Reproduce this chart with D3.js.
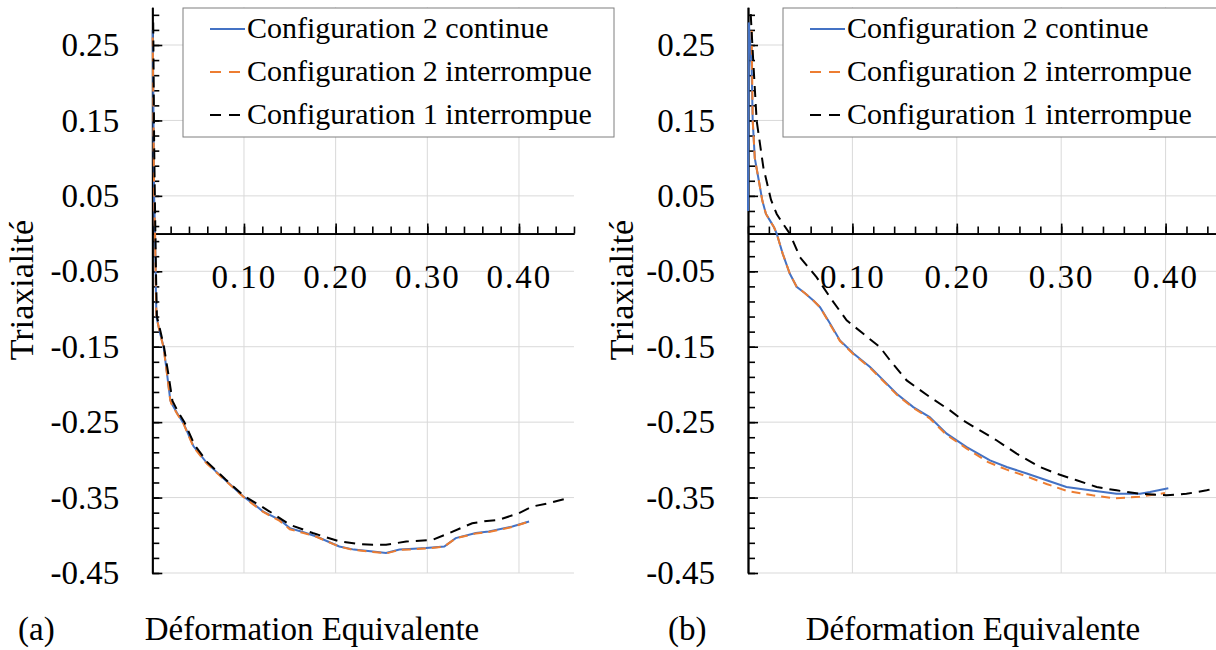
<!DOCTYPE html>
<html><head><meta charset="utf-8">
<script src="https://cdn.jsdelivr.net/npm/d3@7"></script>
</head>
<body style="margin:0">
<svg id="chart" width="1216" height="650" style="font-family:'Liberation Serif'"></svg>
<script>
// ---------- data ----------
const seriesNames = ["Configuration 2 continue", "Configuration 2 interrompue", "Configuration 1 interrompue"];
const xTickVals = [0.10, 0.20, 0.30, 0.40];
const yTickVals = [-0.45, -0.35, -0.25, -0.15, -0.05, 0.05, 0.15, 0.25];
const panelLabels = ["(a)", "(b)"];
const xTitle = "Déformation Equivalente";
const yTitle = "Triaxialité";

// panel (a)
const aBlueX = [0.0005,0.001,0.0015,0.002,0.003,0.004,0.0045,0.008,0.0123,0.016,0.0196,0.021,0.027,0.034,0.045,0.0594,0.0793,0.0993,0.110,0.121,0.139,0.150,0.165,0.179,0.204,0.220,0.2406,0.255,0.2696,0.285,0.2986,0.3185,0.331,0.353,0.367,0.3928,0.411];
const aBlueY = [0.27,0.20,0.12,0.05,0.0,-0.08,-0.11,-0.13,-0.15,-0.185,-0.2205,-0.225,-0.238,-0.2514,-0.282,-0.304,-0.3265,-0.3486,-0.358,-0.3685,-0.3795,-0.3905,-0.396,-0.4016,-0.4148,-0.419,-0.4214,-0.4236,-0.419,-0.418,-0.417,-0.4148,-0.4037,-0.397,-0.395,-0.3884,-0.3817];
const aOrangeX = [0.0005,0.001,0.0015,0.002,0.003,0.004,0.0045,0.008,0.0123,0.016,0.0196,0.021,0.027,0.034,0.045,0.0594,0.0793,0.0993,0.110,0.121,0.139,0.150,0.165,0.179,0.204,0.220,0.2406,0.255,0.2696,0.285,0.2986,0.3185,0.331,0.353,0.367,0.3928,0.413];
const aOrangeY = [0.26,0.19,0.12,0.05,0.0,-0.08,-0.11,-0.13,-0.151,-0.186,-0.221,-0.226,-0.239,-0.252,-0.283,-0.305,-0.327,-0.349,-0.359,-0.369,-0.381,-0.392,-0.397,-0.402,-0.415,-0.4195,-0.422,-0.424,-0.4195,-0.4185,-0.4175,-0.415,-0.404,-0.3975,-0.3955,-0.389,-0.381];
const aBlackX = [0.001,0.0015,0.002,0.003,0.004,0.005,0.009,0.013,0.018,0.022,0.028,0.035,0.046,0.060,0.080,0.100,0.114,0.128,0.150,0.175,0.204,0.225,0.2406,0.255,0.277,0.3058,0.324,0.349,0.365,0.378,0.400,0.4145,0.430,0.454];
const aBlackY = [0.28,0.20,0.12,0.03,-0.05,-0.11,-0.13,-0.152,-0.19,-0.222,-0.236,-0.25,-0.28,-0.303,-0.326,-0.348,-0.358,-0.3685,-0.386,-0.397,-0.408,-0.4115,-0.4126,-0.4126,-0.4083,-0.406,-0.397,-0.384,-0.381,-0.3795,-0.3706,-0.3619,-0.358,-0.3507];

// panel (b)
const bBlueX = [0,0.0008,0.0035,0.0045,0.0065,0.0109,0.0137,0.0172,0.0211,0.0249,0.0275,0.0332,0.040,0.0466,0.0546,0.0626,0.069,0.078,0.0881,0.101,0.1169,0.1264,0.1424,0.1583,0.174,0.1903,0.2095,0.2318,0.2478,0.267,0.286,0.305,0.3276,0.353,0.3755,0.385,0.4026];
const bBlueY = [0.03,0.28,0.22,0.15,0.10,0.066,0.0437,0.026,0.0172,0.0084,0.0,-0.0265,-0.053,-0.0706,-0.079,-0.0887,-0.0976,-0.118,-0.1417,-0.159,-0.177,-0.190,-0.2123,-0.230,-0.2433,-0.2653,-0.283,-0.3007,-0.3095,-0.318,-0.327,-0.336,-0.3404,-0.3448,-0.3448,-0.3425,-0.3376];
const bOrangeX = [0.0035,0.0045,0.0065,0.0109,0.0137,0.0172,0.0211,0.0249,0.0275,0.0332,0.040,0.0466,0.0546,0.0626,0.069,0.078,0.0881,0.101,0.1169,0.1264,0.1424,0.1583,0.174,0.1903,0.2095,0.230,0.2478,0.267,0.286,0.305,0.330,0.350,0.375,0.3994];
const bOrangeY = [0.269,0.15,0.10,0.066,0.0437,0.026,0.0172,0.0084,0.0,-0.0265,-0.053,-0.0706,-0.079,-0.0887,-0.0976,-0.119,-0.1425,-0.160,-0.178,-0.191,-0.2135,-0.231,-0.245,-0.267,-0.285,-0.303,-0.313,-0.322,-0.332,-0.341,-0.347,-0.351,-0.349,-0.344];
const bBlackX = [0.0026,0.005,0.0083,0.0147,0.022,0.0275,0.034,0.040,0.0498,0.0658,0.0785,0.0945,0.1105,0.1264,0.136,0.152,0.1743,0.1935,0.206,0.2222,0.238,0.2573,0.2797,0.2957,0.3148,0.334,0.353,0.3755,0.401,0.420,0.4394,0.455];
const bBlackY = [0.291,0.229,0.1497,0.0878,0.045,0.026,0.012,0.0,-0.0314,-0.058,-0.0844,-0.115,-0.1329,-0.1506,-0.168,-0.1947,-0.2168,-0.2344,-0.2477,-0.261,-0.274,-0.2918,-0.3095,-0.3183,-0.327,-0.336,-0.3404,-0.345,-0.347,-0.345,-0.3404,-0.335];

// ---------- drawing ----------
const FONT = "Liberation Serif";
const svg = d3.select("#chart");
const styles = [
  {color:"#4472C4", dash:null},
  {color:"#ED7D31", dash:"9,6"},
  {color:"#000000", dash:"11,7"}
];
const fmt = d => d.toFixed(2);
const xMax = 0.46, yMin = -0.45, yMax = 0.30;
const minorX = d3.range(0, xMax + 0.0001, 0.02);
const minorY = d3.range(yMin, yMax + 0.0001, 0.02);

function zip(xs, ys){ return xs.map((x,i)=>[x, ys[i]]); }

function drawPanel(cfg){
  const x = d3.scaleLinear().domain([0, xMax]).range([cfg.x0, cfg.x0 + xMax*cfg.xUnit]);
  const y = d3.scaleLinear().domain([yMin, yMax]).range([573, 7.3]);
  const g = svg.append("g");

  g.append("g").selectAll("line").data(yTickVals).join("line")
    .attr("x1", x(0)).attr("x2", x(xMax)).attr("y1", d=>y(d)).attr("y2", d=>y(d))
    .attr("stroke", "#d9d9d9").attr("stroke-width", 1);
  g.append("g").selectAll("line").data(xTickVals).join("line")
    .attr("x1", d=>x(d)).attr("x2", d=>x(d)).attr("y1", y(yMax)).attr("y2", y(yMin))
    .attr("stroke", "#d9d9d9").attr("stroke-width", 1);

  const yMinorAx = g.append("g").attr("transform", `translate(${x(0)},0)`)
    .call(d3.axisLeft(y).tickValues(minorY).tickFormat("").tickSizeInner(-7).tickSizeOuter(0));
  const yMajorAx = g.append("g").attr("transform", `translate(${x(0)},0)`)
    .call(d3.axisLeft(y).tickValues(yTickVals).tickFormat(fmt).tickSizeInner(-10).tickSizeOuter(0).tickPadding(33));
  const xMinorAx = g.append("g").attr("transform", `translate(0,${y(0)})`)
    .call(d3.axisBottom(x).tickValues(minorX).tickFormat("").tickSizeInner(-7).tickSizeOuter(0));
  const xMajorAx = g.append("g").attr("transform", `translate(0,${y(0)})`)
    .call(d3.axisBottom(x).tickValues(xTickVals).tickFormat(fmt).tickSizeInner(-10).tickSizeOuter(0).tickPadding(31));
  [yMinorAx, yMajorAx, xMinorAx, xMajorAx].forEach(a=>{
    a.attr("font-family", FONT).style("font-family", FONT);
    a.selectAll(".domain").attr("stroke","#000").attr("stroke-width",1.8);
    a.selectAll(".tick line").attr("stroke","#000").attr("stroke-width",1.6);
  });
  yMajorAx.selectAll("text").style("font-family", FONT).attr("font-size", 33).attr("fill","#000");
  xMajorAx.selectAll("text").style("font-family", FONT).attr("font-size", 33).attr("fill","#000").attr("letter-spacing", 2);

  const line = d3.line().x(d=>x(d[0])).y(d=>y(d[1]));
  cfg.series.forEach((s,i)=>{
    g.append("path").datum(s).attr("d", line).attr("fill","none")
      .attr("stroke", styles[i].color).attr("stroke-width", 2)
      .attr("stroke-dasharray", styles[i].dash);
  });

  g.append("text").attr("transform", `translate(${cfg.yTitleX},290) rotate(-90)`)
    .attr("text-anchor","middle").style("font-family", FONT).attr("font-size", 34).text(yTitle);
  g.append("text").attr("x", cfg.xTitleX).attr("y", 640).attr("text-anchor","middle")
    .style("font-family", FONT).attr("font-size", 33).text(xTitle);
  g.append("text").attr("x", cfg.labelX).attr("y", 640)
    .style("font-family", FONT).attr("font-size", 33).text(cfg.label);

  const L = cfg.legend;
  const lg = g.append("g");
  lg.append("rect").attr("x", L.x).attr("y", 8).attr("width", L.w).attr("height", 129)
    .attr("fill","#fff").attr("stroke","#7f7f7f").attr("stroke-width",1);
  seriesNames.forEach((name,i)=>{
    const by = 38 + i*43;
    lg.append("line").attr("x1", L.x+27).attr("x2", L.x+62).attr("y1", by-9).attr("y2", by-9)
      .attr("stroke", styles[i].color).attr("stroke-width", 2)
      .attr("stroke-dasharray", styles[i].dash ? "11,8" : null);
    lg.append("text").attr("x", L.x+64).attr("y", by)
      .style("font-family", FONT).attr("font-size", 30).text(name);
  });
}

drawPanel({
  x0: 152.3, xUnit: 916.7,
  series: [zip(aBlueX,aBlueY), zip(aOrangeX,aOrangeY), zip(aBlackX,aBlackY)],
  yTitleX: 33, xTitleX: 312, labelX: 18, label: panelLabels[0],
  legend: {x: 183, w: 431}
});
drawPanel({
  x0: 748, xUnit: 1044,
  series: [zip(bBlueX,bBlueY), zip(bOrangeX,bOrangeY), zip(bBlackX,bBlackY)],
  yTitleX: 633, xTitleX: 973, labelX: 668, label: panelLabels[1],
  legend: {x: 783, w: 440}
});
</script>
</body></html>
